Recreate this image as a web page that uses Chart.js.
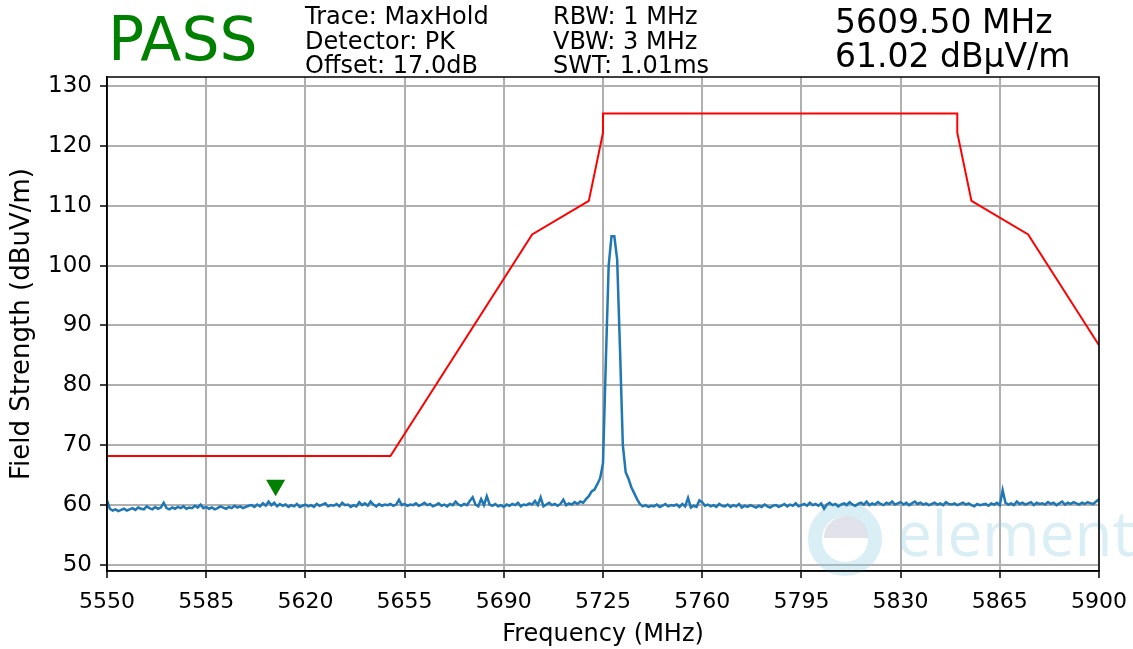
<!DOCTYPE html>
<html>
<head>
<meta charset="utf-8">
<title>Field Strength</title>
<script src="https://cdn.jsdelivr.net/npm/chart.js@4.4.1/dist/chart.umd.min.js"></script>
<style>
    body { margin: 0; background: #fff; }
</style>
</head>
<body>
<canvas id="chart" width="1133" height="649"></canvas>
<script>
// sweep: 5550 - 5900 MHz, 1 MHz per point
const traceStart = 5550;
const traceStep = 1;
const traceLevels = [
    60.8, 59.4, 59.1, 59.3, 59.0, 59.2, 59.4, 59.1, 59.3, 59.5, // 5550
    59.2, 59.6, 59.4, 59.3, 59.8, 59.5, 59.3, 59.7, 59.4, 59.6,
    60.4, 59.5, 59.3, 59.6, 59.4, 59.7, 59.5, 59.8, 59.4, 59.6,
    59.5, 59.9, 59.6, 60.1, 59.5, 59.7, 59.4, 59.6, 59.3, 59.5,
    59.8, 59.6, 59.4, 59.7, 59.5, 59.9, 59.6, 59.8, 59.5, 59.7,
    59.9, 60.0, 59.7, 60.1, 59.8, 60.3, 59.9, 60.6, 60.0, 60.4, // 5600
    59.8, 60.2, 59.9, 60.1, 59.7, 60.0, 59.8, 60.2, 59.7, 59.9,
    60.1, 59.8, 60.0, 59.7, 60.2, 59.9, 60.1, 60.3, 59.8, 60.0,
    59.9, 60.2, 59.8, 60.4, 60.0, 60.1, 59.7, 60.0, 59.8, 60.5,
    60.0, 60.3, 59.9, 60.6, 60.1, 59.8, 60.2, 59.9, 60.1, 60.0,
    60.2, 59.9, 60.1, 60.9, 60.0, 60.2, 59.9, 60.1, 60.0, 60.3, // 5650
    59.9, 60.1, 60.4, 60.0, 60.2, 59.8, 60.0, 60.3, 59.9, 60.1,
    59.8, 60.2, 60.0, 60.6, 60.1, 59.9, 60.2, 60.0, 60.7, 61.3,
    60.1, 59.8, 61.0, 60.0, 61.5, 60.1, 59.9, 60.2, 59.8, 60.0,
    59.7, 60.1, 59.9, 60.2, 60.0, 60.4, 59.8, 60.1, 60.0, 60.3,
    60.1, 60.7, 60.0, 61.3, 59.8, 60.1, 60.4, 60.0, 60.2, 59.9, // 5700
    60.2, 60.9, 60.0, 60.3, 60.1, 60.5, 60.2, 60.6, 60.4, 61.0,
    61.5, 62.3, 62.6, 63.5, 64.5, 67.0, 84.0, 100.0, 104.9, 104.9,
    101.0, 86.0, 70.0, 65.5, 64.4, 63.0, 62.0, 61.0, 60.2, 59.8,
    60.0, 59.7, 59.9, 59.8, 60.1, 59.7, 59.9, 60.2, 59.8, 60.0,
    59.9, 60.1, 59.7, 60.2, 59.8, 61.2, 59.6, 59.9, 59.7, 60.8, // 5750
    60.5, 59.9, 60.1, 59.8, 60.0, 59.7, 60.2, 59.9, 59.8, 60.1,
    59.7, 60.0, 59.8, 60.2, 59.6, 59.9, 59.7, 60.0, 59.8, 59.6,
    59.9, 59.7, 60.1, 59.8, 59.6, 59.9, 60.0, 59.7, 59.9, 60.2,
    59.8, 60.1, 59.9, 60.3, 59.8, 60.0, 60.2, 59.9, 60.4, 60.0,
    60.2, 59.9, 60.3, 59.4, 60.1, 60.4, 60.0, 60.2, 59.8, 60.1, // 5800
    60.3, 60.0, 60.5, 60.1, 59.9, 60.2, 60.4, 60.1, 60.6, 60.0,
    60.3, 60.1, 60.5, 60.2, 60.0, 60.4, 60.2, 60.6, 60.1, 60.3,
    60.5, 60.1, 60.4, 60.0, 60.3, 60.6, 60.2, 60.4, 60.1, 60.3,
    60.0, 60.2, 60.4, 60.1, 60.3, 60.0, 60.5, 60.2, 60.1, 60.3,
    60.0, 60.2, 60.4, 60.1, 60.3, 60.0, 59.8, 60.2, 60.0, 60.1, // 5850
    60.2, 59.9, 60.3, 60.1, 60.4, 60.0, 62.5, 60.4, 60.1, 60.3,
    60.0, 60.6, 60.2, 60.4, 60.1, 60.3, 60.5, 60.0, 60.4, 60.2,
    60.3, 60.1, 60.5, 60.2, 60.4, 60.0, 60.3, 60.6, 60.1, 60.4,
    60.2, 60.5, 60.3, 60.1, 60.4, 60.2, 60.5, 60.3, 60.2, 60.6,
    61.0 // 5900
];

// limit line
const limitFreqs  = [5550, 5650, 5700, 5720, 5725, 5725, 5850, 5850, 5855, 5875, 5900];
const limitLevels = [68.2, 68.2, 105.2, 110.8, 122.2, 125.4, 125.4, 122.2, 110.8, 105.2, 86.7];

// marker
const markerFreqs  = [5609.5];
const markerLevels = [63.3];

const xTicks = [5550, 5585, 5620, 5655, 5690, 5725, 5760, 5795, 5830, 5865, 5900];
const yTicks = [50, 60, 70, 80, 90, 100, 110, 120, 130];

const verdict = 'PASS';
const infoCol1 = ['Trace: MaxHold', 'Detector: PK', 'Offset: 17.0dB'];
const infoCol2 = ['RBW: 1 MHz', 'VBW: 3 MHz', 'SWT: 1.01ms'];
const readout = ['5609.50 MHz', '61.02 dB\u03bcV/m'];

const tracePoints = traceLevels.map((v, i) => ({ x: traceStart + i * traceStep, y: v }));
const limitPoints = limitFreqs.map((f, i) => ({ x: f, y: limitLevels[i] }));
const markerPoints = markerFreqs.map((f, i) => ({ x: f, y: markerLevels[i] }));

Chart.defaults.font.family = '"DejaVu Sans", sans-serif';
Chart.defaults.color = '#000';

const watermark = {
    id: 'watermark',
    beforeDatasetsDraw(c) {
        const ctx = c.ctx;
        ctx.save();
        // circle logo
        ctx.strokeStyle = 'rgba(150, 205, 230, 0.35)';
        ctx.lineWidth = 14;
        ctx.beginPath();
        ctx.arc(845, 539, 30, 0, Math.PI * 2);
        ctx.stroke();
        ctx.fillStyle = 'rgba(120, 125, 160, 0.22)';
        ctx.beginPath();
        ctx.arc(846, 538, 22, Math.PI, 0);
        ctx.fill();
        ctx.fillStyle = 'rgba(150, 205, 230, 0.35)';
        ctx.font = '62px "Open Sans", sans-serif';
        ctx.fillText('element', 897, 556);
        ctx.restore();
    }
};

const header = {
    id: 'header',
    afterDraw(c) {
        const ctx = c.ctx;
        const a = c.chartArea;
        ctx.save();
        ctx.strokeStyle = '#000';
        ctx.lineWidth = 1.5;
        ctx.strokeRect(a.left, a.top, a.right - a.left, a.bottom - a.top);

        ctx.textBaseline = 'alphabetic';
        ctx.fillStyle = '#008000';
        ctx.font = '60px "DejaVu Sans"';
        ctx.fillText(verdict, 108, 60);

        ctx.fillStyle = '#000';
        ctx.font = '24px "DejaVu Sans"';
        infoCol1.forEach((t, i) => ctx.fillText(t, 305, 24 + i * 24.5));
        infoCol2.forEach((t, i) => ctx.fillText(t, 553, 24 + i * 24.5));

        ctx.font = '33px "DejaVu Sans"';
        readout.forEach((t, i) => ctx.fillText(t, 835, 33 + i * 34));
        ctx.restore();
    }
};

new Chart(document.getElementById('chart'), {
    type: 'scatter',
    data: {
        datasets: [
            {
                data: markerPoints,
                pointStyle: 'triangle',
                rotation: 180,
                pointRadius: 11,
                backgroundColor: '#008000',
                borderColor: '#008000',
                borderWidth: 0,
                order: 0
            },
            {
                data: limitPoints,
                showLine: true,
                borderColor: '#ff0000',
                borderWidth: 2,
                pointRadius: 0,
                order: 1
            },
            {
                data: tracePoints,
                showLine: true,
                borderColor: '#1f77b4',
                borderWidth: 2.5,
                pointRadius: 0,
                order: 2
            }
        ]
    },
    options: {
        responsive: false,
        animation: false,
        layout: { padding: { top: 77, right: 34, left: 0, bottom: 0 } },
        plugins: {
            legend: { display: false },
            tooltip: { enabled: false }
        },
        scales: {
            x: {
                type: 'linear',
                min: 5550,
                max: 5900,
                afterBuildTicks: axis => { axis.ticks = xTicks.map(v => ({ value: v })); },
                afterFit: axis => {
                    axis.height = 78;
                    axis.paddingLeft = 0;
                    axis.paddingRight = 0;
                },
                ticks: { font: { size: 22 }, padding: 11, maxRotation: 0, callback: v => String(v) },
                grid: { color: '#b0b0b0', lineWidth: 2, tickColor: '#000', tickLength: 7, tickWidth: 1.5 },
                border: { color: '#000', width: 1.5 },
                title: { display: true, text: 'Frequency (MHz)', font: { size: 24 }, padding: { top: 0, bottom: 0 } }
            },
            y: {
                min: 49,
                max: 131.5,
                afterBuildTicks: axis => { axis.ticks = yTicks.map(v => ({ value: v })); },
                afterFit: axis => { axis.width = 107; },
                ticks: { font: { size: 23 }, padding: 8, callback: v => String(v) },
                grid: { color: '#b0b0b0', lineWidth: 2, tickColor: '#000', tickLength: 7, tickWidth: 1.5 },
                border: { color: '#000', width: 1.5 },
                title: { display: true, text: 'Field Strength (dBuV/m)', font: { size: 26 }, padding: { top: 7, bottom: 0 } }
            }
        }
    },
    plugins: [watermark, header]
});
</script>
</body>
</html>
